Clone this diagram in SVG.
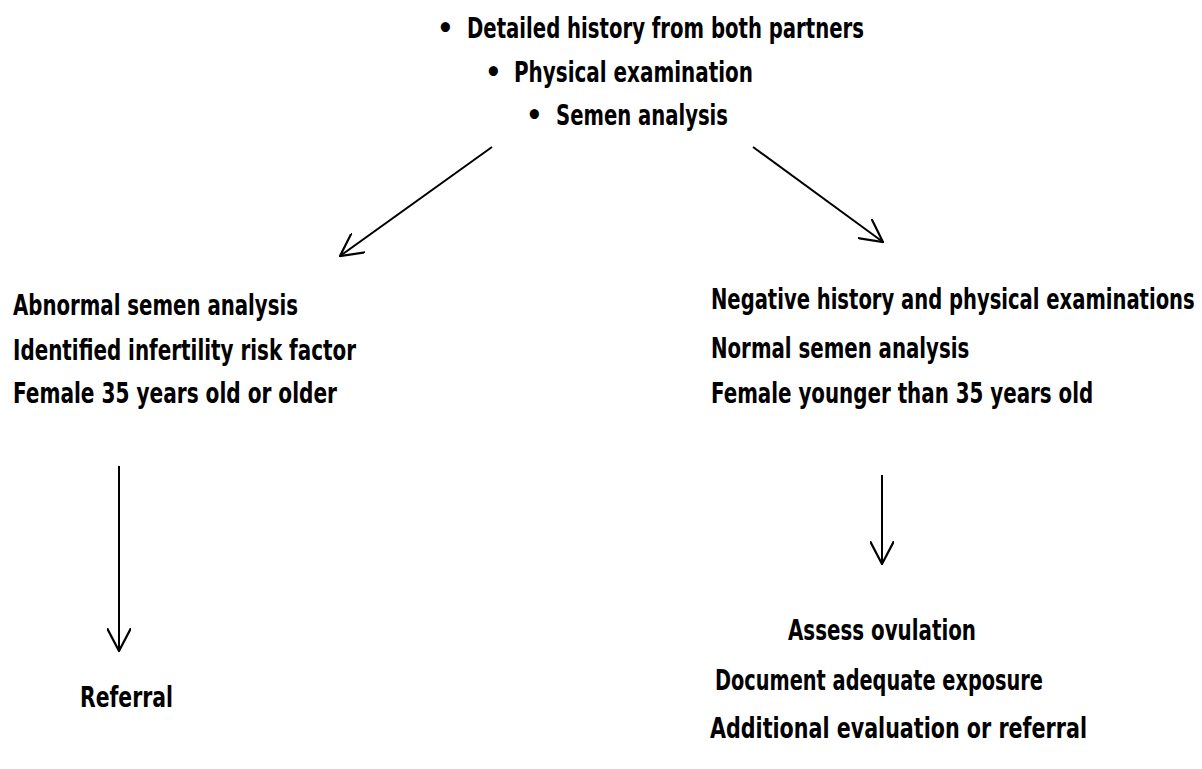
<svg xmlns="http://www.w3.org/2000/svg" width="1202" height="769" viewBox="0 0 1202 769">
<style>
text{font-family:"Liberation Sans Narrow","DejaVu Sans Condensed","Liberation Sans",sans-serif;font-weight:bold;font-size:29px;fill:#000}
.conn{stroke:#000;stroke-width:2;fill:none;marker-end:url(#ah)}
</style>
<defs>
<marker id="ah" viewBox="0 0 24 24" refX="23" refY="12" markerWidth="24" markerHeight="24" markerUnits="userSpaceOnUse" orient="auto">
<path d="M0,0 L23,12 L0,24" fill="none" stroke="#000" stroke-width="2.2"/>
</marker>
</defs>
<rect width="1202" height="769" fill="#fff"/>
<g id="top">
<text><tspan x="437" y="38">•</tspan><tspan x="467" y="38" textLength="397" lengthAdjust="spacingAndGlyphs">Detailed history from both partners</tspan></text>
<text><tspan x="485" y="82">•</tspan><tspan x="514" y="82" textLength="239" lengthAdjust="spacingAndGlyphs">Physical examination</tspan></text>
<text><tspan x="526" y="125">•</tspan><tspan x="556" y="125" textLength="172" lengthAdjust="spacingAndGlyphs">Semen analysis</tspan></text>
</g>
<g id="left">
<text x="13" y="315" textLength="285" lengthAdjust="spacingAndGlyphs">Abnormal semen analysis</text>
<text x="13" y="360" textLength="343" lengthAdjust="spacingAndGlyphs">Identified infertility risk factor</text>
<text x="13" y="403" textLength="324" lengthAdjust="spacingAndGlyphs">Female 35 years old or older</text>
</g>
<g id="referral">
<text x="80" y="707" textLength="93" lengthAdjust="spacingAndGlyphs">Referral</text>
</g>
<g id="right">
<text transform="translate(711,309) scale(0.7,1)" x="0" y="0" textLength="691" lengthAdjust="spacingAndGlyphs">Negative history and physical examinations</text>
<text transform="translate(711,358) scale(0.7,1)" x="0" y="0" textLength="369" lengthAdjust="spacingAndGlyphs">Normal semen analysis</text>
<text transform="translate(711,403) scale(0.7,1)" x="0" y="0" textLength="546" lengthAdjust="spacingAndGlyphs">Female younger than 35 years old</text>
</g>
<g id="next">
<text x="788" y="640" textLength="188" lengthAdjust="spacingAndGlyphs">Assess ovulation</text>
<text x="715" y="690" textLength="328" lengthAdjust="spacingAndGlyphs">Document adequate exposure</text>
<text x="710" y="738" textLength="377" lengthAdjust="spacingAndGlyphs">Additional evaluation or referral</text>
</g>
<g id="connectors">
<line class="conn" x1="492" y1="147" x2="340" y2="256"/>
<line class="conn" x1="753" y1="147" x2="883" y2="242"/>
<line class="conn" x1="119" y1="466" x2="119" y2="651"/>
<line class="conn" x1="882" y1="475" x2="882" y2="564"/>
</g>
</svg>
